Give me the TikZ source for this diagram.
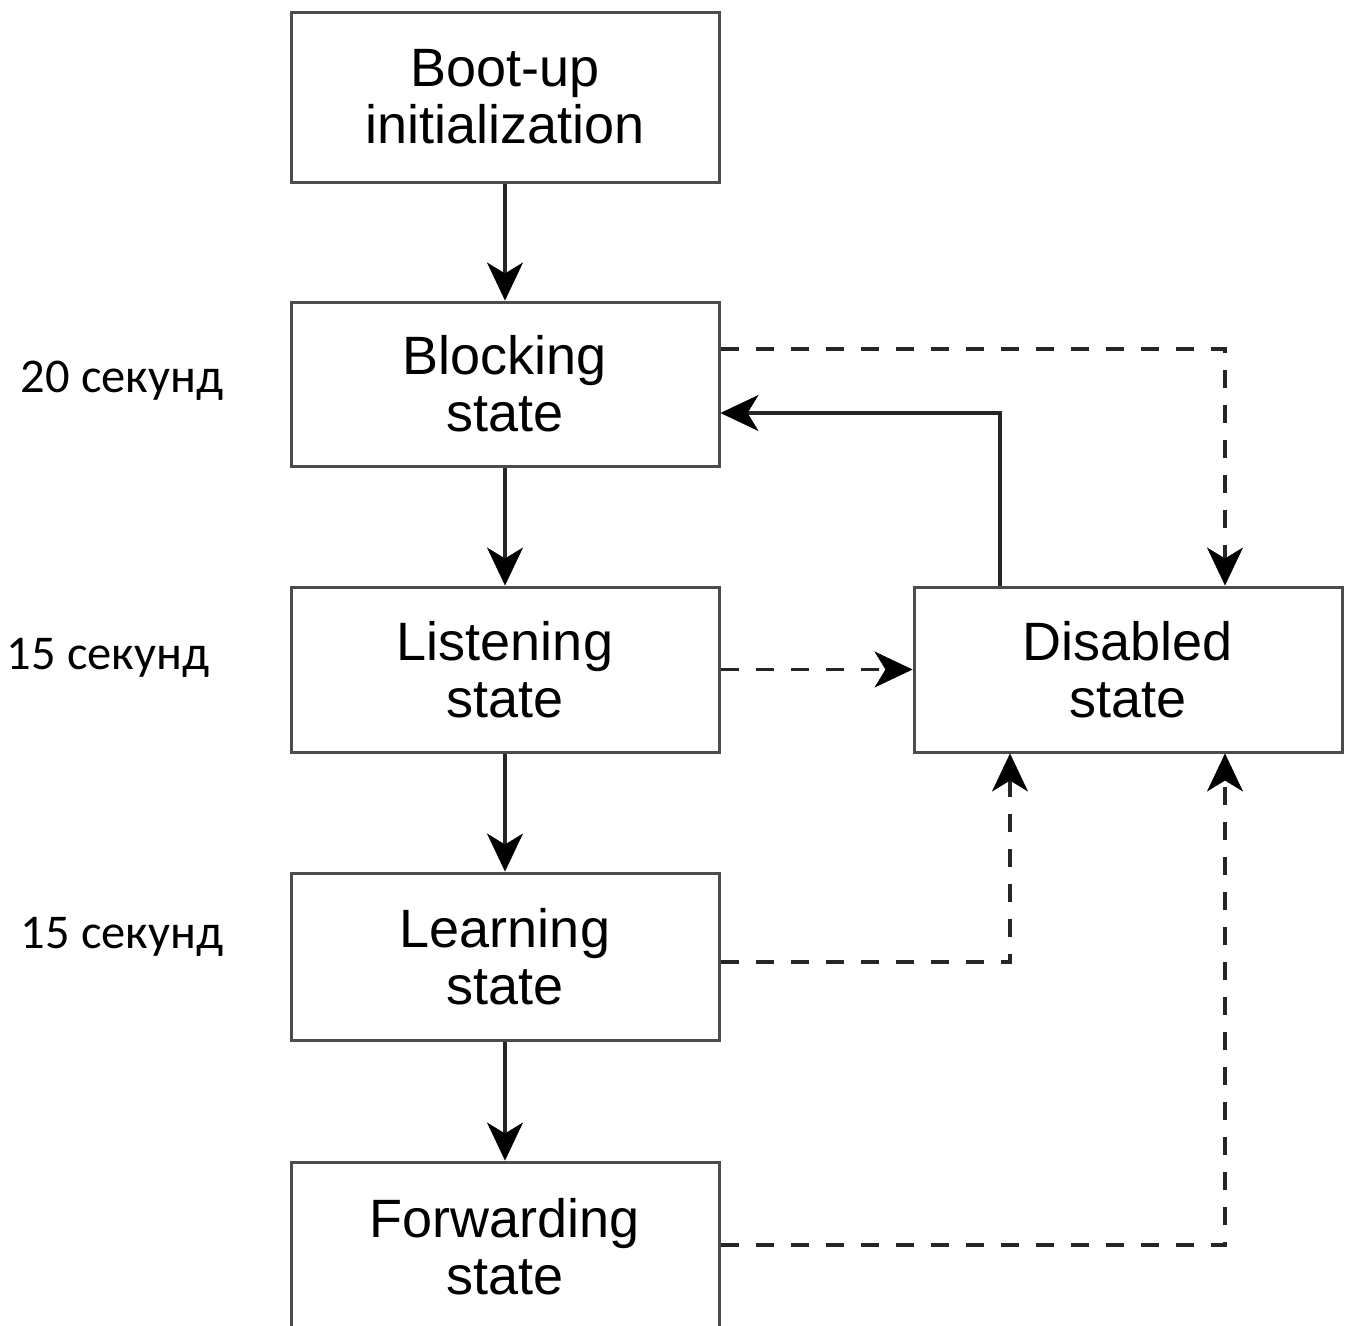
\documentclass[tikz,border=0pt]{standalone}
\usepackage{fontspec}
\setmainfont{Liberation Sans}
\newfontfamily\labfont{Carlito}
\usetikzlibrary{arrows.meta,calc}
\begin{document}
\begin{tikzpicture}[x=1pt,y=-1pt,
  statebox/.style={draw=black!70,line width=3pt,fill=white,minimum width=428pt,inner sep=0pt,align=center,
    font=\fontsize{54}{57}\selectfont},
  conn/.style={draw=black!85,line width=3.5pt,-{Stealth[length=38pt,width=36pt,inset=11pt,line width=0.5pt,color=black,fill=black]}},
  dconn/.style={conn,dash pattern=on 18pt off 17pt},
  timelabel/.style={font=\labfont\fontsize{48.5}{52}\selectfont,inner sep=0pt}]
\useasboundingbox (0,0) rectangle (1345,1326);
\fill[white] (0,0) rectangle (1345,1326);
\node[statebox,minimum height=170pt] (boot) at (505,97) {Boot-up\\initialization};
\node[statebox,minimum height=164pt] (blk) at (505,384) {Blocking\\state};
\node[statebox,minimum height=165pt] (lst) at (505,669.5) {Listening\\state};
\node[statebox,minimum height=167pt] (lrn) at (505,956.5) {Learning\\state};
\node[statebox,minimum height=170pt] (fwd) at (505,1247) {Forwarding\\state};
\node[statebox,minimum height=165pt] (dis) at (1128,669.5) {Disabled\\state};
\node[timelabel] (t1) at (122,381) {20 секунд};
\node[timelabel] (t2) at (108,658) {15 секунд};
\node[timelabel] (t3) at (122,937) {15 секунд};
\draw[conn] (boot) -- (blk);
\draw[conn] (blk) -- (lst);
\draw[conn] (lst) -- (lrn);
\draw[conn] (lrn) -- (fwd);
\draw[conn] ([xshift=-128pt]dis.north) |- ([yshift=-29pt]blk.east);
\draw[dconn] ([yshift=35pt]blk.east) -| ([xshift=97pt]dis.north);
\draw[dconn] (lst.east) -- (dis.west);
\draw[dconn] ([yshift=-5.5pt]lrn.east) -| ([xshift=-118pt]dis.south);
\draw[dconn] ([yshift=2pt]fwd.east) -| ([xshift=97pt]dis.south);
\end{tikzpicture}
\end{document}
